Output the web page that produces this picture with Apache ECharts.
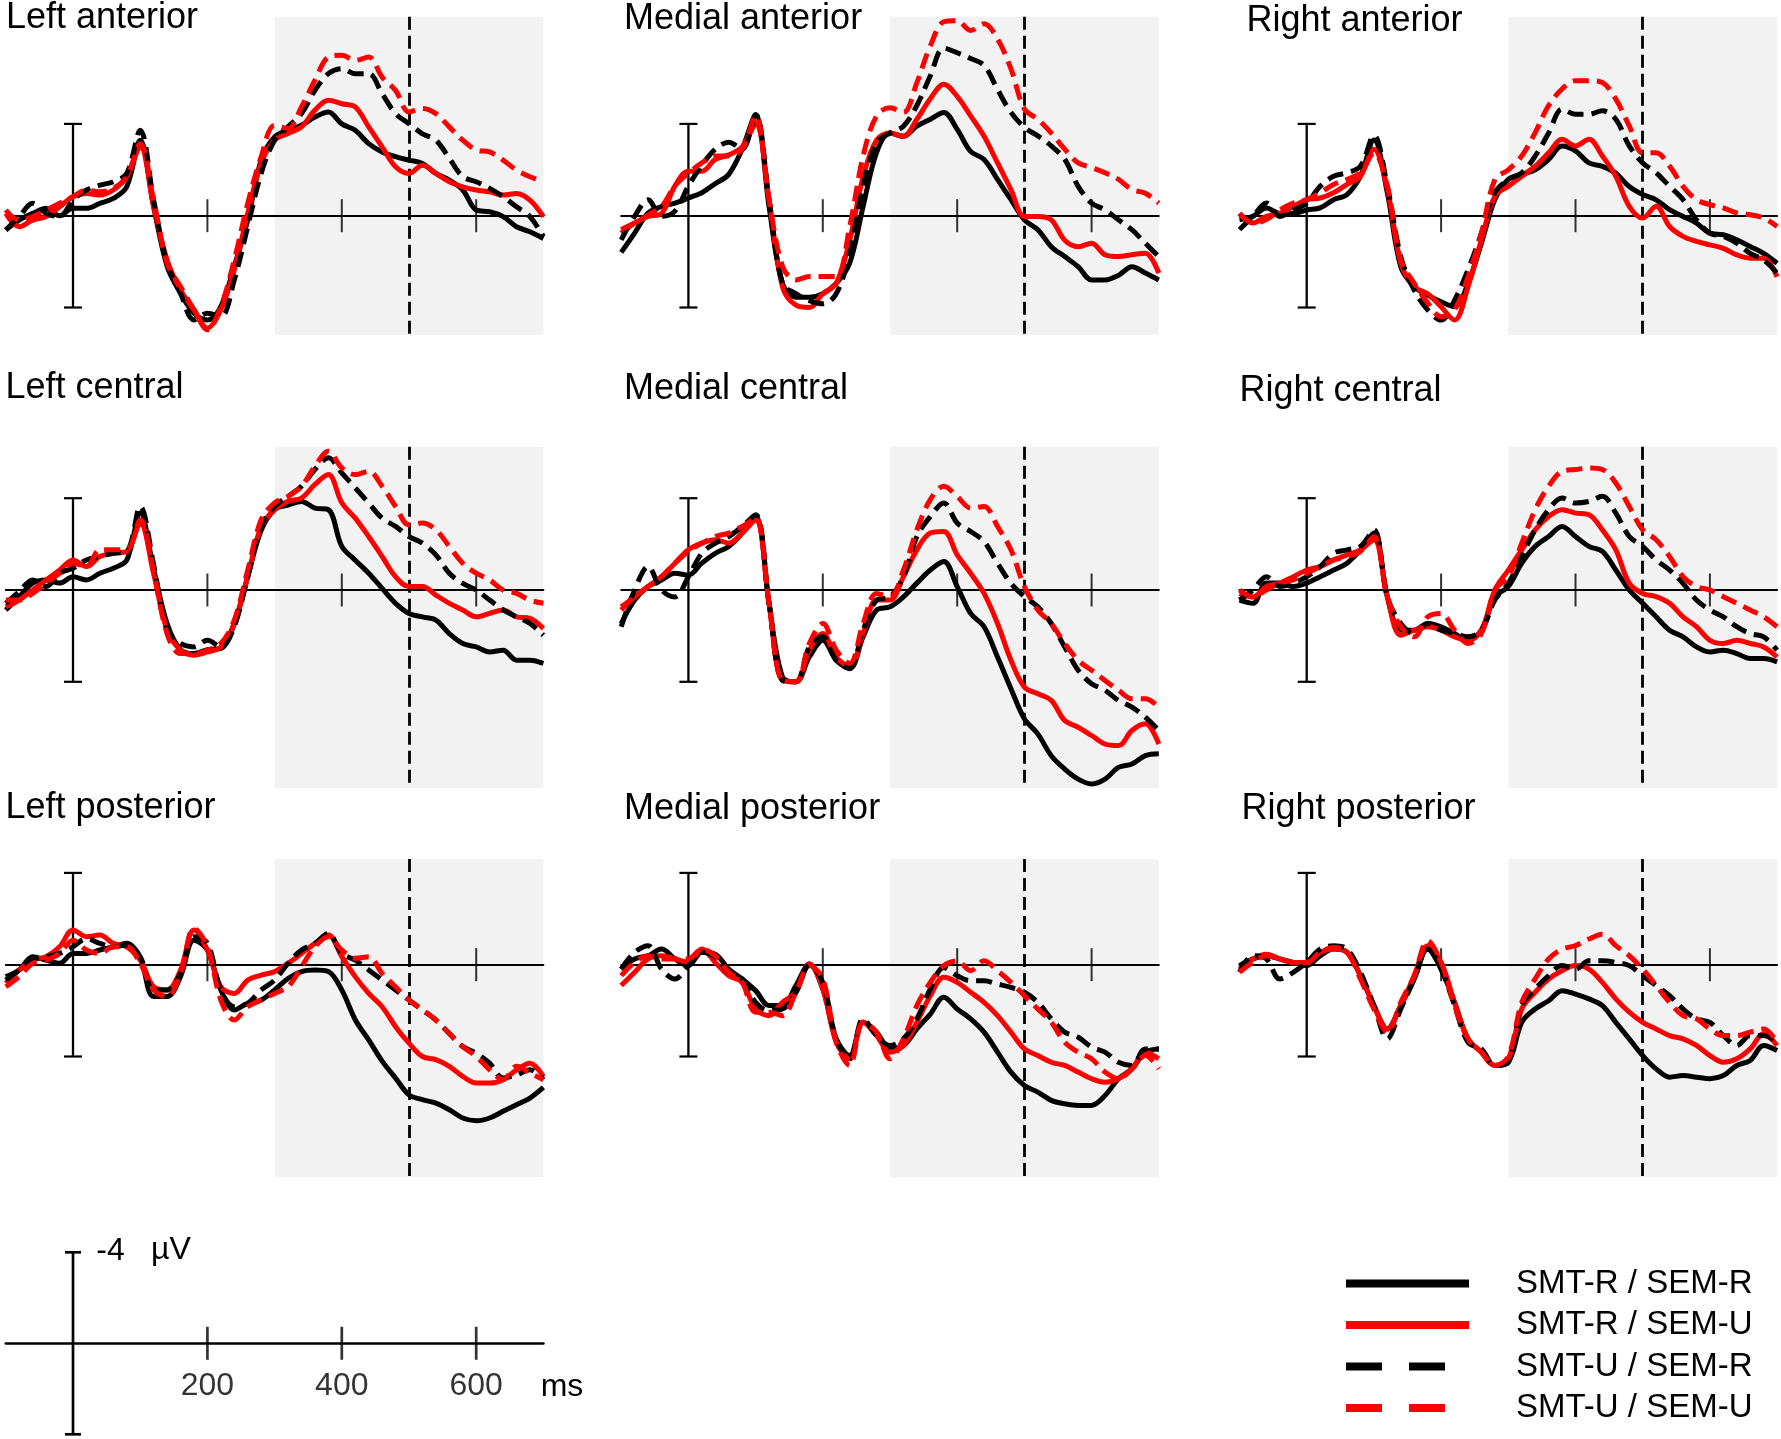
<!DOCTYPE html>
<html>
<head>
<meta charset="utf-8">
<title>ERP waveforms by region</title>
<script src="https://cdn.jsdelivr.net/npm/echarts@6/dist/echarts.min.js"></script>
<style>
  html, body { margin: 0; padding: 0; background: #fff; }
  #chart { width: 1781px; height: 1439px; }
</style>
</head>
<body>
<div id="chart"></div>
<script>
// time points (ms) shared by every waveform
var timesMs = [-100,-80,-60,-40,-20,0,20,40,60,80,100,120,140,160,180,200,220,240,260,280,300,320,340,360,380,400,420,440,460,480,500,520,540,560,580,600,620,640,660,680,700];

// amplitudes in microvolts (negative is drawn upward)
// RR = SMT-R/SEM-R, RU = SMT-R/SEM-U, UR = SMT-U/SEM-R, UU = SMT-U/SEM-U
var laRR = [0.62,0.19,-0.1,-0.32,0,-0.32,-0.32,-0.54,-0.75,-1.26,-3.29,-0.39,2.2,3.38,4.25,4.54,3.96,2.2,0.19,-2.42,-3.43,-3.72,-3.94,-4.3,-4.52,-4.0,-3.72,-3.14,-2.78,-2.57,-2.42,-2.28,-1.84,-1.55,-1.12,-0.25,-0.17,0.04,0.48,0.7,0.99];
var laRU = [-0.1,0.48,0.19,0.04,-0.39,-0.83,-0.97,-0.9,-1.12,-1.7,-3.0,-0.39,1.93,3.23,4.1,4.9,4.1,2.36,-0.1,-2.28,-3.29,-3.58,-3.87,-4.6,-5.03,-4.88,-4.74,-3.87,-3.0,-2.13,-1.84,-2.2,-1.84,-1.48,-1.26,-1.12,-1.04,-0.9,-0.97,-0.68,0.04];
var laUR = [0.62,0.04,-0.54,-0.1,0.04,-0.68,-1.12,-1.33,-1.48,-1.84,-3.72,-0.68,2.07,3.38,4.54,4.25,4.39,2.8,0.48,-1.84,-3.29,-3.87,-4.45,-5.46,-6.19,-6.41,-6.19,-6.19,-5.32,-4.45,-4.01,-3.57,-3.29,-2.5,-1.7,-1.48,-1.19,-0.83,-0.39,0.04,0.91];
var laUU = [-0.25,0.19,0.04,-0.25,-0.54,-0.83,-1.12,-1.04,-1.19,-1.7,-3.14,-0.68,2.07,3.09,4.1,4.97,3.96,1.93,-0.54,-2.57,-3.94,-3.8,-4.74,-5.9,-6.91,-6.99,-6.77,-6.91,-6.04,-5.46,-4.52,-4.67,-4.45,-3.87,-3.29,-2.86,-2.78,-2.42,-1.99,-1.7,-1.48];

var maRR = [1.6,0.76,-0.12,-0.4,-0.55,-0.77,-1.0,-1.4,-1.8,-2.9,-4.4,-0.4,2.95,3.55,3.55,3.4,2.95,2.07,-0.4,-2.75,-3.6,-3.46,-3.9,-4.2,-4.5,-3.76,-2.8,-2.45,-1.58,-0.7,0.18,0.61,1.35,1.78,2.22,2.8,2.8,2.6,2.22,2.5,2.8];
var maRU = [0.76,0.32,0.03,-0.1,-1.3,-1.94,-1.94,-2.45,-2.65,-3.0,-4.0,-0.7,3.1,3.9,4.0,3.4,2.95,1.07,-1.7,-3.3,-3.6,-3.46,-4.2,-5.1,-5.73,-5.2,-4.35,-3.46,-2.3,-1.14,0.03,0.03,0.18,1.07,1.35,1.2,1.7,1.78,1.7,1.64,2.5];
var maUR = [1.05,0.03,-0.7,0.03,-0.2,-1.3,-2.2,-2.9,-3.2,-2.9,-4.4,-0.7,2.95,3.4,3.7,3.84,3.4,1.64,-1.28,-3.18,-3.6,-3.9,-4.8,-6.1,-7.3,-7.1,-6.85,-6.55,-5.5,-4.5,-3.85,-3.48,-3.04,-2.46,-1.28,-0.55,-0.25,0.18,0.61,1.2,1.78];
var maUU = [0.6,0.32,-0.04,-0.4,-1.3,-1.85,-2.3,-2.6,-2.6,-2.9,-4.35,-0.7,2.2,2.8,2.65,2.65,2.65,0.47,-2.6,-4.35,-4.7,-4.5,-5.8,-7.4,-8.45,-8.5,-8.07,-8.36,-7.7,-6.4,-4.65,-4.2,-3.6,-2.9,-2.3,-2.1,-1.87,-1.58,-1.14,-0.98,-0.55];

var raRR = [0.17,0.03,-0.34,-0.1,-0.1,-0.25,-0.34,-0.7,-0.92,-1.72,-3.3,-0.99,2.23,3.1,3.46,3.75,3.97,2.95,1.2,-0.7,-1.58,-1.8,-2.0,-2.45,-3.04,-2.82,-2.3,-2.15,-1.85,-1.27,-0.92,-0.69,-0.26,0.03,0.32,0.76,0.83,1.05,1.34,1.64,2.07];
var raRU = [-0.1,0.32,0.03,-0.1,-0.4,-0.7,-0.77,-1.0,-1.36,-1.72,-2.9,-1.14,2.07,3.1,3.4,3.97,4.55,3.1,1.05,-0.85,-1.28,-1.72,-2.16,-2.74,-3.33,-3.04,-3.33,-2.6,-1.72,-0.41,0.1,-0.41,0.47,0.9,1.12,1.27,1.42,1.71,1.85,1.85,2.66];
var raUR = [0.6,0.03,-0.55,0.03,-0.25,-0.55,-1.28,-1.72,-1.87,-2.16,-3.5,-1.28,1.78,3.24,4.1,4.55,3.68,2.36,0.76,-1.0,-1.58,-1.87,-2.6,-3.6,-4.64,-4.42,-4.42,-4.57,-4.2,-3.04,-2.3,-1.87,-1.28,-0.7,0.18,0.76,0.9,1.2,1.64,1.93,2.5];
var raUU = [-0.1,0.32,0.17,-0.25,-0.55,-0.7,-1.0,-1.36,-1.58,-1.87,-2.74,-1.28,1.93,2.95,3.8,4.4,4.1,2.66,0.76,-1.58,-2.0,-2.6,-3.62,-4.8,-5.52,-5.88,-5.88,-5.8,-5.08,-3.91,-2.74,-2.74,-2.16,-1.28,-0.7,-0.48,-0.34,-0.12,-0.04,0.1,0.47];

var lcRR = [0.87,0.3,-0.3,-0.44,-0.3,-0.58,-0.44,-0.73,-0.95,-1.3,-3.35,-0.9,1.46,2.6,2.77,2.6,2.55,1.46,-0.58,-2.6,-3.5,-3.7,-3.86,-3.57,-3.5,-1.9,-1.3,-0.73,-0.07,0.58,1.02,1.17,1.31,1.9,2.33,2.48,2.7,2.62,3.06,3.06,3.2];
var lcRU = [0.73,0.44,0,-0.44,-0.87,-1.31,-1.02,-1.46,-1.6,-1.68,-2.9,-0.7,1.75,2.62,2.84,2.7,2.48,1.46,-0.58,-2.77,-3.5,-3.86,-4.0,-4.6,-5.03,-3.8,-3.13,-2.33,-1.46,-0.58,-0.15,-0.15,0.22,0.58,0.87,1.17,1.02,0.87,1.17,1.24,1.68];
var lcUR = [0.58,0.07,-0.44,-0.15,-0.73,-0.95,-1.31,-1.46,-1.6,-1.68,-3.64,-1.1,1.75,2.33,2.48,2.19,2.48,1.6,-0.58,-2.77,-3.64,-4.08,-4.52,-5.25,-5.76,-5.1,-4.45,-3.79,-3.13,-2.77,-2.33,-2.04,-1.53,-0.73,-0.29,0,0.44,0.87,1.17,1.46,1.97];
var lcUU = [0.44,0.44,0.15,-0.3,-0.73,-1.17,-1.02,-1.75,-1.75,-1.75,-3.06,-0.8,1.9,2.77,2.77,2.62,2.33,1.31,-0.87,-3.06,-3.8,-4.08,-4.52,-5.39,-6.05,-5.32,-5.03,-5.17,-4.52,-3.64,-2.84,-2.92,-2.62,-1.9,-1.17,-0.73,-0.44,0,0.15,0.44,0.58];

var mcRR = [1.46,0.44,-0.15,-0.44,-0.73,-0.65,-1.17,-1.6,-1.9,-2.48,-3.2,0.58,3.79,4.0,2.92,2.19,3.06,3.43,2.04,0.87,0.73,0.3,-0.3,-0.87,-1.24,-0.15,1.02,1.6,2.92,4.3,5.61,6.27,7.22,7.8,8.24,8.45,8.24,7.73,7.58,7.22,7.14];
var mcRU = [0.73,0.3,-0.15,-0.58,-1.17,-1.75,-2.04,-2.19,-2.04,-2.48,-3.06,0.58,3.94,4.0,2.62,1.9,2.92,3.35,1.9,0.44,0.44,-0.58,-1.75,-2.48,-2.55,-1.53,-0.73,0.15,1.46,3.06,4.23,4.52,4.81,5.69,5.98,6.34,6.71,6.78,6.12,5.83,6.71];
var mcUR = [1.6,0,-1.02,0,0.3,-0.58,-1.6,-2.04,-2.33,-2.77,-3.28,0.58,3.94,4.0,2.48,2.04,3.06,3.35,1.75,0.44,0.3,-0.58,-2.33,-3.2,-3.79,-2.92,-2.55,-2.11,-1.17,-0.29,0.29,0.73,1.46,2.48,3.5,4.08,4.37,4.81,5.1,5.54,6.12];
var mcUU = [0.87,0.3,-0.15,-0.58,-1.17,-1.68,-2.04,-2.33,-2.48,-2.77,-3.13,0.58,3.94,4.0,2.33,1.46,2.62,3.2,1.46,0.15,0.3,-0.87,-2.62,-3.94,-4.52,-4.08,-3.57,-3.64,-2.77,-1.75,-0.15,0.87,1.46,2.33,3.06,3.5,3.94,4.37,4.74,4.74,5.1];

var rcRR = [0.44,0.58,-0.3,-0.3,-0.15,-0.3,-0.58,-0.87,-1.17,-1.75,-2.48,0.3,1.75,1.75,1.46,1.6,1.9,2.19,1.75,0.3,-0.15,-1.17,-1.9,-2.33,-2.77,-2.33,-1.9,-1.68,-0.87,0,0.58,1.17,1.75,2.04,2.48,2.7,2.62,2.77,2.99,2.99,3.13];
var rcRU = [0.15,0.3,-0.15,-0.3,-0.58,-0.87,-1.02,-1.31,-1.53,-1.75,-2.19,0.3,1.97,1.75,1.6,1.75,2.04,2.19,1.75,0,-0.87,-1.75,-2.62,-3.2,-3.5,-3.35,-3.28,-2.62,-1.75,-0.29,0.15,0.29,0.58,1.17,1.6,2.19,2.33,2.19,2.33,2.48,2.92];
var rcUR = [0.44,0,-0.58,-0.15,-0.3,-0.58,-1.02,-1.6,-1.75,-1.9,-2.62,0.3,1.46,1.9,1.46,1.75,1.9,2.04,1.75,0.44,-0.29,-1.46,-2.62,-3.5,-4.01,-3.79,-3.86,-4.08,-3.35,-2.33,-1.9,-1.31,-0.87,-0.29,0.44,0.87,1.17,1.6,1.9,2.04,2.62];
var rcUU = [0,0.3,0,-0.3,-0.44,-0.73,-1.02,-1.31,-1.46,-1.68,-2.33,0.3,1.6,2.04,1.17,1.02,1.75,2.33,1.9,0,-0.58,-2.04,-3.5,-4.52,-5.17,-5.25,-5.32,-5.25,-4.66,-3.64,-2.62,-2.19,-1.46,-0.58,-0.15,0,0.29,0.58,0.87,1.17,1.6];

var lpRR = [0.52,0.23,-0.35,-0.2,-0.06,-0.49,-0.49,-0.64,-0.78,-0.93,-0.3,1.39,1.39,0.52,-1.07,-0.64,1.1,1.97,1.68,1.54,1.1,0.6,0.3,0.23,0.3,1.1,2.4,3.28,4.2,4.94,5.67,5.88,6.03,6.32,6.68,6.8,6.68,6.39,6.1,5.81,5.35];
var lpRU = [0.81,0.23,-0.2,-0.35,-0.78,-1.51,-1.22,-1.29,-0.93,-0.78,-0.2,0.96,1.1,0.23,-1.51,-0.64,0.96,1.25,0.67,0.45,0.3,-0.06,-0.49,-0.93,-1.29,-0.35,0.52,1.25,1.83,2.7,3.42,4.0,4.14,4.43,4.87,5.16,5.16,5.01,4.58,4.29,4.87];
var lpUR = [0.67,0.23,-0.2,-0.35,-0.49,-0.78,-1.14,-0.93,-0.78,-0.86,-0.35,1.1,1.1,0.38,-1.22,-0.93,1.1,1.83,1.68,1.1,0.67,-0.06,-0.64,-0.93,-1.36,-0.49,-0.2,0.23,0.67,1.1,1.54,1.97,2.41,3.0,3.57,3.86,4.29,4.94,4.8,4.58,5.01];
var lpUU = [0.96,0.52,-0.06,-0.2,-0.49,-1.07,-0.64,-0.49,-0.78,-0.78,-0.06,1.1,1.39,0.38,-1.58,-0.78,1.54,2.41,1.83,1.54,1.25,0.96,0.09,-0.78,-1.22,-0.64,-0.28,-0.35,0.38,0.96,1.54,1.97,2.41,3.0,3.57,4.0,4.58,5.01,4.43,4.72,5.01];

var mpRR = [0.19,-0.25,-0.39,-0.68,-0.25,0.04,-0.54,-0.46,0.19,0.62,1.13,1.78,1.78,0.91,-0.03,1.06,3.23,3.96,2.51,2.94,3.67,3.52,2.8,2.15,1.42,1.93,2.36,2.94,3.81,4.68,5.26,5.55,5.91,6.06,6.13,6.13,5.7,4.97,4.54,3.81,3.67];
var mpRU = [0.91,0.33,-0.25,-0.39,-0.25,-0.1,-0.68,-0.1,0.48,0.77,1.93,2.22,1.64,1.2,-0.03,1.06,3.38,4.1,2.51,3.09,3.81,3.52,2.51,1.35,0.55,0.77,1.2,1.64,2.22,2.94,3.67,3.96,4.25,4.39,4.68,4.97,5.12,4.97,4.54,3.81,4.1];
var mpUR = [0.19,-0.54,-0.83,0.19,0.62,0.04,-0.54,-0.32,0.33,0.62,1.64,2.0,1.93,1.2,0.04,0.77,3.23,4.1,2.36,3.09,3.52,3.23,2.36,1.06,0.12,0.48,0.7,0.7,0.84,0.99,1.2,1.64,2.36,2.94,3.16,3.59,3.81,4.25,4.39,3.67,3.67];
var mpUU = [0.48,-0.1,-0.39,-0.25,-0.25,-0.25,-0.68,-0.39,0.33,0.77,2.07,2.07,2.22,1.2,0.04,0.62,3.38,4.39,2.5,2.94,4.1,3.23,1.78,0.77,0.04,-0.17,0.26,-0.17,0.26,0.77,1.35,1.93,2.51,3.38,3.81,4.1,4.68,4.97,4.54,3.96,4.54];

var rpRR = [0.04,-0.25,-0.39,-0.25,-0.1,0.04,-0.39,-0.68,-0.54,0.48,1.78,2.8,1.78,0.62,-0.68,0.19,1.64,3.23,3.81,4.39,4.25,2.51,1.93,1.57,1.13,1.28,1.49,1.78,2.51,3.23,3.96,4.54,4.9,4.83,4.9,4.97,4.83,4.39,4.17,3.52,3.74];
var rpRU = [0.19,-0.25,-0.46,-0.25,-0.1,-0.1,-0.54,-0.68,-0.54,0.48,1.78,2.8,1.78,0.48,-0.83,-0.1,1.64,3.23,3.81,4.39,4.1,1.93,1.2,0.62,0.26,0.04,0.19,0.77,1.49,2.07,2.51,2.8,3.09,3.23,3.52,3.96,4.25,4.1,3.67,3.01,3.52];
var rpUR = [0.33,-0.39,-0.25,0.62,0.33,-0.1,-0.68,-0.83,-0.68,0.33,1.78,3.23,1.93,0.62,-0.68,0.19,1.78,3.38,3.67,4.39,4.25,1.78,1.06,0.48,0.04,0.19,-0.17,-0.17,-0.1,0.04,0.48,0.91,1.35,1.93,2.36,2.51,3.09,3.52,3.09,3.09,3.38];
var rpUU = [0.33,-0.1,-0.39,-0.25,-0.1,-0.1,-0.54,-0.75,-0.54,0.62,1.93,2.94,1.64,0.48,-1.04,-0.1,1.78,3.23,3.81,4.39,4.0,1.64,0.62,-0.25,-0.68,-0.83,-1.12,-1.33,-0.83,-0.39,0.19,0.91,1.64,2.22,2.36,2.8,3.09,3.09,2.94,2.8,3.38];

var panelTitles = ['Left anterior', 'Medial anterior', 'Right anterior',
                   'Left central', 'Medial central', 'Right central',
                   'Left posterior', 'Medial posterior', 'Right posterior'];
var conditionNames = ['SMT-R / SEM-R', 'SMT-R / SEM-U', 'SMT-U / SEM-R', 'SMT-U / SEM-U'];
var tickMs = [200, 400, 600];
var barUv = [-4, 4];
var shadeMs = [300, 700];
var cutMs = 500;

var panelData = [
  [laRR, laRU, laUR, laUU], [maRR, maRU, maUR, maUU], [raRR, raRU, raUR, raUU],
  [lcRR, lcRU, lcUR, lcUU], [mcRR, mcRU, mcUR, mcUU], [rcRR, rcRU, rcUR, rcUU],
  [lpRR, lpRU, lpUR, lpUU], [mpRR, mpRU, mpUR, mpUU], [rpRR, rpRU, rpUR, rpUU]
];

// ---- layout (pixels) ----
var FONT = '"Liberation Sans", Arial, Helvetica, sans-serif';
var RED = '#ff0000';
var condColor = ['#000', RED, '#000', RED];
var condDashed = [false, false, true, true];
var PX_PER_MS = 0.672;
var PX_PER_UV = 22.95;
var colZero = [73, 688.4, 1306.7];
var rowZero = [215.7, 590, 964.7];
var rowTop = [16.7, 446.7, 859];
var rowBottom = [335, 788.3, 1177.3];
var titlePos = [[6, 7], [624, 8], [1246.5, 10], [5.5, 377], [624, 378], [1239.5, 380], [5.5, 797], [624, 798], [1241.5, 798]];

var tMin = timesMs[0], tMax = timesMs[timesMs.length - 1];

var grids = [], xAxes = [], yAxes = [], series = [], titles = [];

panelData.forEach(function (waves, i) {
  var col = i % 3, row = Math.floor(i / 3);
  grids.push({
    left: colZero[col] + tMin * PX_PER_MS, top: rowTop[row],
    width: (tMax - tMin) * PX_PER_MS,
    height: rowBottom[row] - rowTop[row],
    containLabel: false, outerBoundsMode: 'none'
  });
  xAxes.push({
    gridIndex: i, type: 'value', min: tMin, max: tMax, z: 2,
    axisLine: { onZero: true, lineStyle: { color: '#000', width: 2 } },
    axisTick: { show: false }, axisLabel: { show: false }, splitLine: { show: false }
  });
  yAxes.push({
    gridIndex: i, type: 'value', inverse: true, show: false,
    min: -(rowZero[row] - rowTop[row]) / PX_PER_UV,
    max: (rowBottom[row] - rowZero[row]) / PX_PER_UV,
    splitLine: { show: false }
  });
  titles.push({
    text: panelTitles[i], left: titlePos[i][0], top: titlePos[i][1] - 7, padding: 0,
    textStyle: { fontSize: 36, fontWeight: 'normal', color: '#000', fontFamily: FONT }
  });

  // shaded analysis window
  series.push({
    type: 'line', xAxisIndex: i, yAxisIndex: i, silent: true, z: 0,
    data: [[shadeMs[0], 0]], symbol: 'none', lineStyle: { width: 0 },
    markArea: {
      silent: true, z: 1,
      itemStyle: { color: '#f2f2f2' },
      data: [[{ xAxis: shadeMs[0] }, { xAxis: shadeMs[1] }]]
    }
  });
  // amplitude bar with caps, plus dashed 500 ms marker
  series.push({
    type: 'line', xAxisIndex: i, yAxisIndex: i, silent: true, z: 2,
    data: barUv.map(function (v) { return [0, v]; }),
    symbol: 'rect', symbolSize: [18, 2.2], showSymbol: true,
    itemStyle: { color: '#000' }, lineStyle: { color: '#000', width: 2.3 },
    markLine: {
      silent: true, z: 2, symbol: ['none', 'none'], label: { show: false },
      lineStyle: { color: '#000', width: 2.8, type: [13, 6] },
      data: [{ xAxis: cutMs }]
    }
  });
  // time ticks crossing the zero line
  series.push({
    type: 'scatter', xAxisIndex: i, yAxisIndex: i, silent: true, z: 2,
    data: tickMs.map(function (t) { return [t, 0]; }),
    symbol: 'rect', symbolSize: [2, 33], itemStyle: { color: '#000' }
  });
  // the four condition waveforms
  waves.forEach(function (arr, k) {
    series.push({
      name: conditionNames[k], type: 'line', xAxisIndex: i, yAxisIndex: i,
      z: 3, smooth: 0.35, symbol: 'none', showSymbol: false,
      data: timesMs.map(function (t, j) { return [t, arr[j]]; }),
      lineStyle: { color: condColor[k], width: 5, type: condDashed[k] ? [16, 8] : 'solid' },
      itemStyle: { color: condColor[k] }
    });
  });
});

// calibration panel (bottom left)
var s = panelData.length;
grids.push({ left: 73 + tMin * PX_PER_MS, top: 1252.3, width: (tMax - tMin) * PX_PER_MS, height: 182, containLabel: false, outerBoundsMode: 'none' });
xAxes.push({
  gridIndex: s, type: 'value', min: tMin, max: tMax, z: 2,
  axisLine: { onZero: true, lineStyle: { color: '#000', width: 2.7 } },
  axisTick: { show: false }, axisLabel: { show: false }, splitLine: { show: false }
});
yAxes.push({ gridIndex: s, type: 'value', inverse: true, min: barUv[0], max: barUv[1], show: false, splitLine: { show: false } });
series.push({
  type: 'line', xAxisIndex: s, yAxisIndex: s, silent: true, z: 2,
  data: barUv.map(function (v) { return [0, v]; }),
  symbol: 'rect', symbolSize: [16, 2.7], showSymbol: true,
  itemStyle: { color: '#000' }, lineStyle: { color: '#000', width: 2.7 }
});
// ticks with their time labels underneath
series.push({
  type: 'scatter', xAxisIndex: s, yAxisIndex: s, silent: true, z: 2,
  data: tickMs.map(function (t) { return [t, 0]; }),
  symbol: 'rect', symbolSize: [2.7, 33], itemStyle: { color: '#000' },
  label: {
    show: true, position: 'bottom', distance: 10,
    color: '#000', fontSize: 32, fontFamily: FONT,
    formatter: function (p) { return String(p.value[0]); }
  }
});

var chart = echarts.init(document.getElementById('chart'));
chart.setOption({
  animation: false,
  backgroundColor: '#fff',
  title: titles,
  grid: grids,
  xAxis: xAxes,
  yAxis: yAxes,
  legend: {
    orient: 'vertical', left: 1342, top: 1267, padding: 0,
    itemWidth: 123, itemHeight: 8, itemGap: 8.5,
    selectedMode: false,
    itemStyle: { opacity: 0 },
    textStyle: { fontSize: 33, lineHeight: 33, color: '#000', fontFamily: FONT, padding: [0, 0, 0, 42] },
    data: conditionNames.map(function (n, k) {
      return { name: n, lineStyle: { width: 8, type: condDashed[k] ? [36, 27] : 'solid' } };
    })
  },
  graphic: [
    { type: 'text', x: 110.5, y: 1251, style: { text: String(barUv[0]), font: '32px ' + FONT, fill: '#000', align: 'center', verticalAlign: 'middle' } },
    { type: 'text', x: 171, y: 1250, style: { text: 'µV', font: '32px ' + FONT, fill: '#000', align: 'center', verticalAlign: 'middle' } },
    { type: 'text', x: 562, y: 1387, style: { text: 'ms', font: '32px ' + FONT, fill: '#000', align: 'center', verticalAlign: 'middle' } }
  ],
  series: series
});
</script>
</body>
</html>
